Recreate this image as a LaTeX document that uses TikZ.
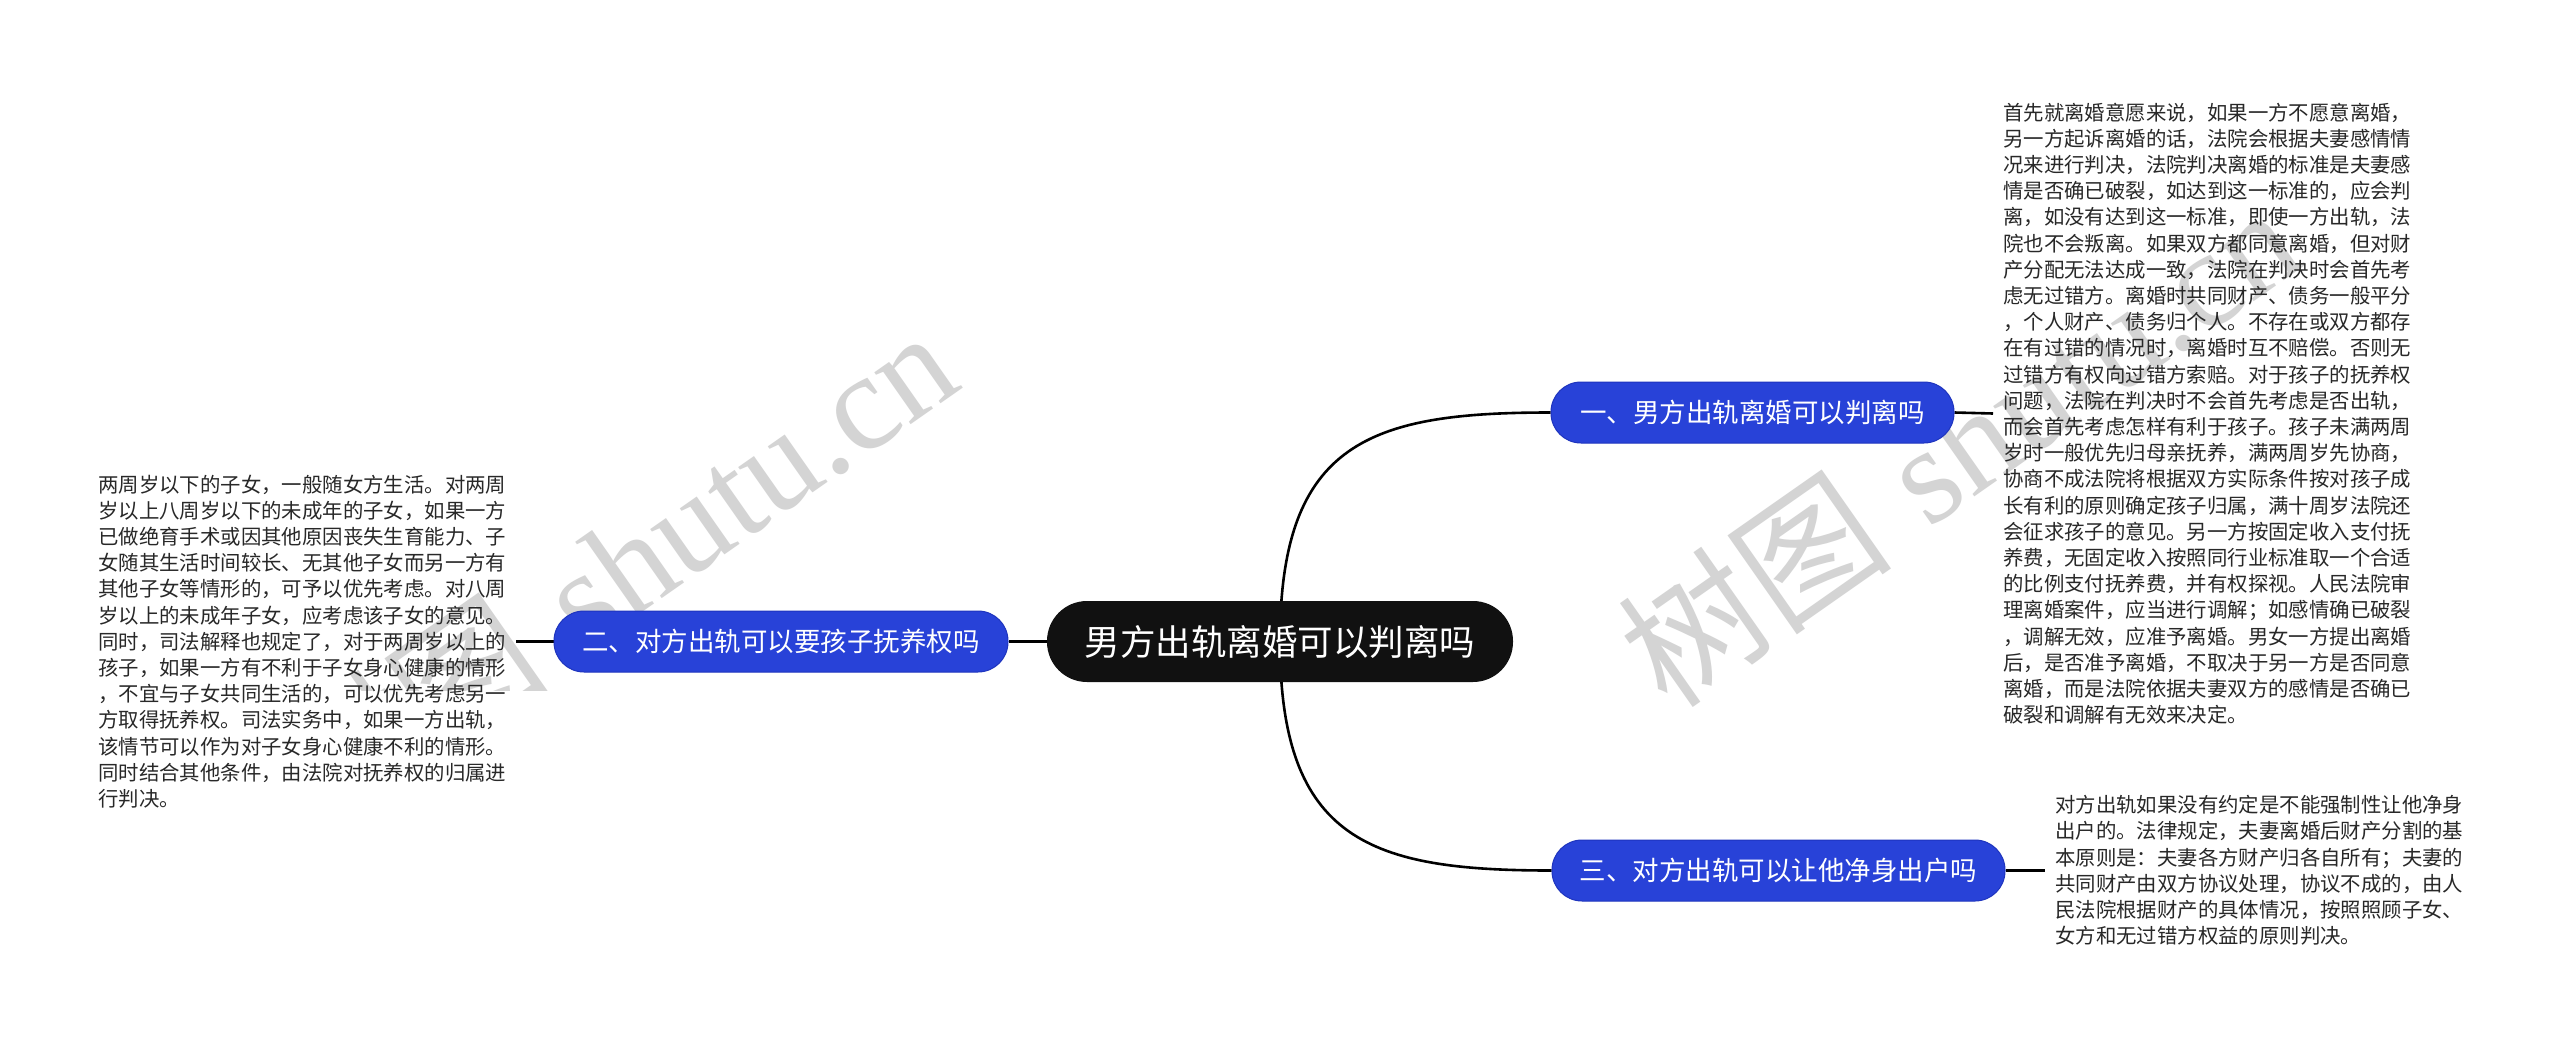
\documentclass[tikz,border=0pt]{standalone}
\usepackage{fontspec}
\newfontfamily\cjk{Noto Sans CJK SC}
\newfontfamily\wmserif{Liberation Serif}
\definecolor{nodeblue}{RGB}{40,66,216}
\definecolor{nodeblueedge}{RGB}{30,52,190}
\definecolor{centerfill}{RGB}{17,17,17}
\definecolor{bodytext}{RGB}{40,40,40}
\definecolor{wmgray}{RGB}{212,212,212}
\pgfdeclarelayer{wm}
\pgfdeclarelayer{background}
\pgfsetlayers{wm,background,main}
\begin{document}
\begin{tikzpicture}[x=1pt,y=-1pt,
  conn/.style={line width=2.6pt, black},
  rootbox/.style={fill=centerfill, text=white, rounded corners=40pt, minimum width=466pt, minimum height=81pt, inner sep=0pt, font=\cjk\fontsize{35.5}{40}\selectfont},
  branchbox/.style={fill=nodeblue, draw=nodeblueedge, line width=1pt, text=white, rounded corners=30pt, minimum height=61pt, inner sep=0pt, font=\cjk\fontsize{26.5}{30}\selectfont},
  body/.style={text=bodytext, inner xsep=10pt, inner ysep=0pt, align=left, font=\cjk\fontsize{20.4}{26.2}\selectfont},
  watermark/.style={text=wmgray, inner sep=0pt, rotate=35, anchor=base west, font=\fontsize{138}{142}\selectfont}
]
\useasboundingbox (0,0) rectangle (2560,1047);
\begin{pgfonlayer}{wm}
\fill[white] (0,0) rectangle (2560,1047);
\begin{scope}
\clip (350,0) rectangle (1100,690);
\node[watermark] (wm1) at (325,835) {{\cjk 树图} {\wmserif shutu.cn}};
\end{scope}
\node[watermark] (wm2) at (1668,712) {{\cjk 树图} {\wmserif shutu.cn}};
\end{pgfonlayer}

\node[rootbox] (c) at (1280,641.5) {男方出轨离婚可以判离吗};
\node[branchbox, minimum width=403pt] (b1) at (1752.5,412.5) {一、男方出轨离婚可以判离吗};
\node[branchbox, minimum width=454pt] (b2) at (781,641.5) {二、对方出轨可以要孩子抚养权吗};
\node[branchbox, minimum width=453pt] (b3) at (1778.5,870.5) {三、对方出轨可以让他净身出户吗};

\node[body, anchor=west] (t1) at (1993,413.5) {首先就离婚意愿来说，如果一方不愿意离婚，\\
另一方起诉离婚的话，法院会根据夫妻感情情\\
况来进行判决，法院判决离婚的标准是夫妻感\\
情是否确已破裂，如达到这一标准的，应会判\\
离，如没有达到这一标准，即使一方出轨，法\\
院也不会叛离。如果双方都同意离婚，但对财\\
产分配无法达成一致，法院在判决时会首先考\\
虑无过错方。离婚时共同财产、债务一般平分\\
，个人财产、债务归个人。不存在或双方都存\\
在有过错的情况时，离婚时互不赔偿。否则无\\
过错方有权向过错方索赔。对于孩子的抚养权\\
问题，法院在判决时不会首先考虑是否出轨，\\
而会首先考虑怎样有利于孩子。孩子未满两周\\
岁时一般优先归母亲抚养，满两周岁先协商，\\
协商不成法院将根据双方实际条件按对孩子成\\
长有利的原则确定孩子归属，满十周岁法院还\\
会征求孩子的意见。另一方按固定收入支付抚\\
养费，无固定收入按照同行业标准取一个合适\\
的比例支付抚养费，并有权探视。人民法院审\\
理离婚案件，应当进行调解；如感情确已破裂\\
，调解无效，应准予离婚。男女一方提出离婚\\
后，是否准予离婚，不取决于另一方是否同意\\
离婚，而是法院依据夫妻双方的感情是否确已\\
破裂和调解有无效来决定。};

\node[body, anchor=west] (t2) at (88,641.5) {两周岁以下的子女，一般随女方生活。对两周\\
岁以上八周岁以下的未成年的子女，如果一方\\
已做绝育手术或因其他原因丧失生育能力、子\\
女随其生活时间较长、无其他子女而另一方有\\
其他子女等情形的，可予以优先考虑。对八周\\
岁以上的未成年子女，应考虑该子女的意见。\\
同时，司法解释也规定了，对于两周岁以上的\\
孩子，如果一方有不利于子女身心健康的情形\\
，不宜与子女共同生活的，可以优先考虑另一\\
方取得抚养权。司法实务中，如果一方出轨，\\
该情节可以作为对子女身心健康不利的情形。\\
同时结合其他条件，由法院对抚养权的归属进\\
行判决。};

\node[body, anchor=west] (t3) at (2045,870.5) {对方出轨如果没有约定是不能强制性让他净身\\
出户的。法律规定，夫妻离婚后财产分割的基\\
本原则是：夫妻各方财产归各自所有；夫妻的\\
共同财产由双方协议处理，协议不成的，由人\\
民法院根据财产的具体情况，按照照顾子女、\\
女方和无过错方权益的原则判决。};

\begin{pgfonlayer}{background}
\draw[conn] (c.center) .. controls +(0,-200) and +(-180,0) .. (b1.west);
\draw[conn] (c.center) .. controls +(0,200) and +(-180,0) .. (b3.west);
\draw[conn] (c.west) -- (b2.east);
\draw[conn] (b1.east) -- (t1.west);
\draw[conn] (b2.west) -- (t2.east);
\draw[conn] (b3.east) -- (t3.west);
\end{pgfonlayer}
\end{tikzpicture}
\end{document}
